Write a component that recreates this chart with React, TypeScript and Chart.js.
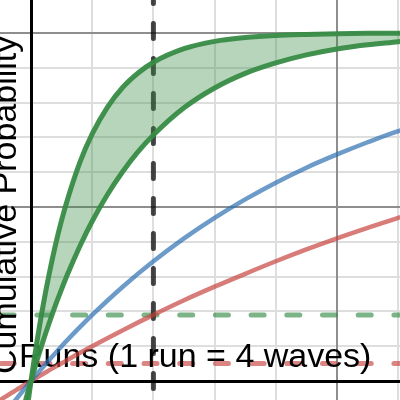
import { useEffect, useRef } from "react";
import { Chart, registerables } from "chart.js";

Chart.register(...registerables);

// ---- data ----
const xGreen = [-0.1, -0.05, 0, 0.05, 0.1, 0.2, 0.3, 0.4, 0.5, 0.6, 0.8, 1, 1.25, 1.5, 1.75, 2, 2.5, 3, 3.5, 4, 4.5, 5, 5.5, 6, 6.1];
const greenUpper = [-0.132, -0.064, 0, 0.06, 0.116, 0.219, 0.31, 0.391, 0.462, 0.524, 0.629, 0.71, 0.787, 0.844, 0.885, 0.916, 0.955, 0.976, 0.987, 0.993, 0.996, 0.998, 0.999, 0.9994, 0.9995];
const greenLower = [-0.063, -0.031, 0, 0.03, 0.06, 0.116, 0.168, 0.218, 0.264, 0.308, 0.388, 0.459, 0.536, 0.602, 0.659, 0.707, 0.785, 0.842, 0.884, 0.914, 0.937, 0.954, 0.966, 0.975, 0.977];

const xRuns = [-0.6, -0.5, -0.25, 0, 0.25, 0.5, 0.75, 1, 1.5, 2, 2.5, 3, 3.5, 4, 4.5, 5, 5.5, 6, 6.1];
const redCurve = [-0.065, -0.054, -0.027, 0, 0.026, 0.051, 0.076, 0.1, 0.146, 0.19, 0.232, 0.271, 0.308, 0.344, 0.378, 0.41, 0.44, 0.469, 0.474];
const blueCurve = [-0.135, -0.111, -0.054, 0, 0.051, 0.1, 0.146, 0.19, 0.271, 0.344, 0.41, 0.469, 0.522, 0.57, 0.613, 0.651, 0.686, 0.718, 0.723];

const runsMarker = 2;
const greenThreshold = 0.19;
const redThreshold = 0.05;

const gridX = [1, 2, 3, 4, 5, 6];
const gridY = [0.1, 0.2, 0.3, 0.4, 0.5, 0.6, 0.7, 0.8, 0.9, 1.0];

const xLabel = "Runs (1 run = 4 waves)";
const yLabel = "Cumulative Probability";

// ---- view window ----
const X_MIN = -0.5065;
const X_MAX = 6.029;
const Y_MIN = -0.0546;
const Y_MAX = 1.0948;
const Y_AXIS_END = 0.112;

const GREEN = "rgba(56,140,70,0.95)";
const GREEN_FILL = "rgba(56,140,70,0.37)";
const BLUE = "rgba(45,112,179,0.7)";
const RED = "rgba(199,68,64,0.7)";
const GREEN_DASH = "rgba(56,140,70,0.65)";
const RED_DASH = "rgba(199,68,64,0.65)";
const BLACK_DASH = "rgba(0,0,0,0.72)";
const MINOR = "#dedede";
const MAJOR = "#8e8e8e";
const FONT = '34px "Liberation Sans", Arial, sans-serif';

const pts = (xs: number[], ys: number[]) => xs.map((x, i) => ({ x, y: ys[i] }));

export default function App() {
  const ref = useRef<HTMLCanvasElement>(null);

  useEffect(() => {
    document.body.style.margin = "0";
    const canvas = ref.current;
    if (!canvas) return;

    const desmosPlugin = {
      id: "desmosLook",
      beforeDatasetsDraw(chart: any) {
        const { ctx, chartArea: a, scales } = chart;
        const sx = scales.x;
        const sy = scales.y;
        ctx.save();
        ctx.lineCap = "butt";
        ctx.setLineDash([]);
        const line = (x1: number, y1: number, x2: number, y2: number) => {
          ctx.beginPath();
          ctx.moveTo(x1, y1);
          ctx.lineTo(x2, y2);
          ctx.stroke();
        };
        ctx.lineWidth = 2;
        const drawGrid = (major: boolean) => {
          ctx.strokeStyle = major ? MAJOR : MINOR;
          gridX.forEach((v) => {
            if ((Math.round(v) % 5 === 0) !== major) return;
            const px = Math.round(sx.getPixelForValue(v));
            line(px, a.top, px, a.bottom);
          });
          gridY.forEach((v) => {
            if ((Math.round(v * 10) % 5 === 0) !== major) return;
            const py = Math.round(sy.getPixelForValue(v));
            line(a.left, py, a.right, py);
          });
        };
        drawGrid(false);
        drawGrid(true);
        ctx.strokeStyle = "#000";
        ctx.lineWidth = 3;
        const x0 = Math.round(sx.getPixelForValue(0)) + 0.5;
        const y0 = Math.round(sy.getPixelForValue(0)) + 0.5;
        line(a.left, y0, a.right, y0);
        line(x0, a.top, x0, sy.getPixelForValue(Y_AXIS_END));
        ctx.restore();
      },
      beforeDatasetDraw(chart: any, args: any) {
        if (args.index !== 3) return;
        const { ctx } = chart;
        ctx.save();
        ctx.font = FONT;
        ctx.fillStyle = "#000";
        ctx.textAlign = "left";
        ctx.textBaseline = "alphabetic";
        ctx.fillText(xLabel, 19, 367);
        ctx.translate(15.5, 374);
        ctx.rotate(-Math.PI / 2);
        ctx.fillText(yLabel, 0, 0);
        ctx.restore();
      },
    };

    const common = { pointRadius: 0, pointHoverRadius: 0, cubicInterpolationMode: "monotone" as const };

    const chart = new Chart(canvas, {
      type: "line",
      data: {
        datasets: [
          { data: pts(xGreen, greenUpper), borderColor: GREEN, borderWidth: 5, backgroundColor: GREEN_FILL, fill: "+1", ...common },
          { data: pts(xGreen, greenLower), borderColor: GREEN, borderWidth: 5, fill: false, ...common },
          { data: pts(xRuns, blueCurve), borderColor: BLUE, borderWidth: 4.5, fill: false, ...common },
          { data: pts(xRuns, redCurve), borderColor: RED, borderWidth: 4.5, fill: false, ...common },
          {
            data: [{ x: runsMarker, y: 1.2284 }, { x: runsMarker, y: -0.2 }],
            borderColor: BLACK_DASH, borderWidth: 5, borderDash: [15, 20], borderCapStyle: "round", fill: false, pointRadius: 0,
          },
          {
            data: [{ x: -1.07, y: greenThreshold }, { x: 7, y: greenThreshold }],
            borderColor: GREEN_DASH, borderWidth: 5, borderDash: [13, 22.7], borderCapStyle: "round", fill: false, pointRadius: 0,
          },
          {
            data: [{ x: -1.07, y: redThreshold }, { x: 7, y: redThreshold }],
            borderColor: RED_DASH, borderWidth: 5, borderDash: [13, 22.7], borderCapStyle: "round", fill: false, pointRadius: 0,
          },
        ],
      },
      options: {
        animation: false,
        responsive: false,
        maintainAspectRatio: false,
        devicePixelRatio: 1,
        events: [],
        layout: { padding: 0 },
        plugins: { legend: { display: false }, tooltip: { enabled: false } },
        scales: {
          x: { type: "linear", display: false, min: X_MIN, max: X_MAX },
          y: { type: "linear", display: false, min: Y_MIN, max: Y_MAX },
        },
      },
      plugins: [desmosPlugin],
    });

    return () => chart.destroy();
  }, []);

  return (
    <div style={{ width: 400, height: 400 }}>
      <canvas ref={ref} width={400} height={400} style={{ display: "block", width: 400, height: 400 }} />
    </div>
  );
}
